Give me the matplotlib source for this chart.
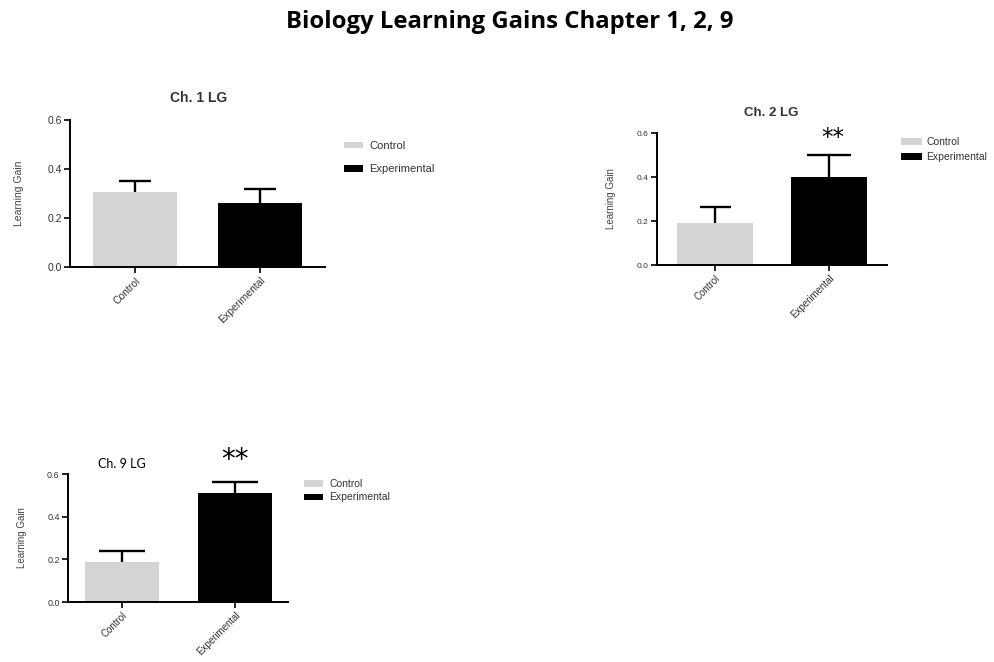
import matplotlib
matplotlib.use("Agg")
import matplotlib.pyplot as plt

# data
groups = ["Control", "Experimental"]
ch1_means = [0.307, 0.263]
ch1_err = [0.046, 0.056]
ch2_means = [0.190, 0.398]
ch2_err = [0.073, 0.102]
ch9_means = [0.187, 0.509]
ch9_err = [0.051, 0.052]
bar_colors = ["#d4d4d4", "#000000"]

W, H = 995, 662
fig = plt.figure(figsize=(W / 100, H / 100), dpi=100)
plt.rcParams["font.family"] = ["Liberation Sans", "DejaVu Sans"]


def px_axes(left, right, top, bottom):
    return fig.add_axes([left / W, 1 - bottom / H, (right - left) / W, (bottom - top) / H])


def panel(ax, means, errs, width, xlim, caps, fs, xfs):
    bars = ax.bar(range(len(groups)), means, width=width, color=bar_colors, zorder=2)
    # upper error bars only, lower half hidden in the bar
    for i in range(len(groups)):
        top = means[i] + errs[i]
        ax.vlines(i, means[i] - 0.02, top, color="black", lw=1.7, zorder=1)
        ax.hlines(top, i - caps[i], i + caps[i], color="black", lw=1.7, zorder=1)
    ax.set_xlim(*xlim)
    ax.set_ylim(0, 0.6)
    ax.set_yticks([0.0, 0.2, 0.4, 0.6])
    ax.set_yticklabels(["0.0", "0.2", "0.4", "0.6"], fontsize=fs, color="#333333")
    ax.set_xticks(range(len(groups)))
    ax.set_xticklabels(groups, rotation=45, ha="right", rotation_mode="anchor",
                       fontsize=xfs, color="#333333")
    for s in ["top", "right"]:
        ax.spines[s].set_visible(False)
    for s in ["left", "bottom"]:
        ax.spines[s].set_linewidth(1.4)
    ax.tick_params(axis="both", width=1.2, length=4, pad=2)
    ax.set_ylabel("Learning Gain", fontsize=xfs, color="#444444")
    return bars


# Ch. 1
ax1 = px_axes(70, 325, 120, 267)
b1 = panel(ax1, ch1_means, ch1_err, 0.672, (-0.52, 1.52), [0.13, 0.13], 7.5, 7.5)
ax1.yaxis.set_label_coords(-0.18, 0.5)
ax1.legend(b1, groups, loc="upper left", bbox_to_anchor=(334 / W, 1 - 131 / H),
           bbox_transform=fig.transFigure, frameon=False, fontsize=8,
           handlelength=1.7, handleheight=0.55, handletextpad=0.6, labelspacing=1.2,
           labelcolor="#333333")
fig.text(199 / W, 1 - 98 / H, "Ch. 1 LG", ha="center", va="center",
         fontsize=10, fontweight="bold", color="#333333")

# Ch. 2
ax2 = px_axes(657, 887, 133, 265)
b2 = panel(ax2, ch2_means, ch2_err, 0.66, (-0.51, 1.51), [0.136, 0.19], 6, 7)
ax2.yaxis.set_label_coords(-0.18, 0.5)
ax2.text(1.033, 0.551, "**", ha="center", va="baseline", fontsize=16.5,
         family="DejaVu Sans", clip_on=False)
ax2.legend(b2, groups, loc="upper left", bbox_to_anchor=(892 / W, 1 - 128 / H),
           bbox_transform=fig.transFigure, frameon=False, fontsize=7.5,
           handlelength=2.0, handleheight=0.7, handletextpad=0.4, labelspacing=0.45,
           labelcolor="#333333")
fig.text(771 / W, 1 - 113 / H, "Ch. 2 LG", ha="center", va="center",
         fontsize=9.5, fontweight="bold", color="#333333")

# Ch. 9
ax3 = px_axes(68, 288, 474, 602)
b3 = panel(ax3, ch9_means, ch9_err, 0.65, (-0.48, 1.47), [0.205, 0.2], 6.5, 7)
ax3.yaxis.set_label_coords(-0.185, 0.5)
ax3.text(1.0, 0.628, "**", ha="center", va="baseline", fontsize=20,
         family="DejaVu Sans", clip_on=False)
ax3.legend(b3, groups, loc="upper left", bbox_to_anchor=(295 / W, 1 - 470 / H),
           bbox_transform=fig.transFigure, frameon=False, fontsize=7.5,
           handlelength=1.8, handleheight=0.6, handletextpad=0.6, labelspacing=0.3,
           labelcolor="#333333")
fig.text(122 / W, 1 - 464 / H, "Ch. 9 LG", ha="center", va="center",
         fontsize=9, family=["Lato", "DejaVu Sans"])

fig.text(510 / W, 1 - 28 / H, "Biology Learning Gains Chapter 1, 2, 9", ha="center",
         va="baseline", fontsize=17.2, fontweight="bold", family=["Open Sans", "DejaVu Sans"])

fig.savefig("out.png", dpi=100)
